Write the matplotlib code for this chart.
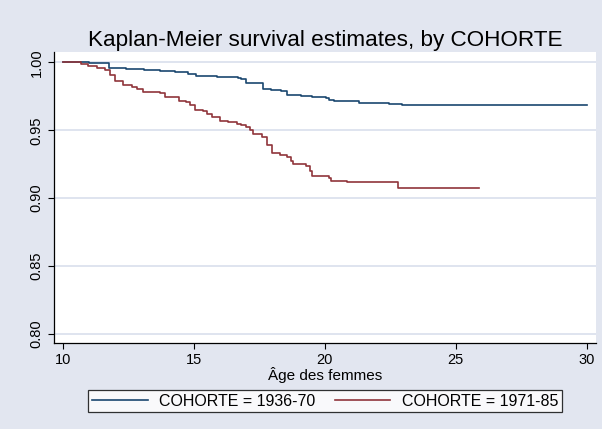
import matplotlib
matplotlib.use('Agg')
import matplotlib.pyplot as plt

plt.rcParams['font.family'] = ['Liberation Sans', 'DejaVu Sans']

# Kaplan-Meier step values
t_old = [10, 11.0, 11.75, 12.4, 13.1, 13.7, 14.3, 14.8, 15.1, 15.7, 15.9, 16.7,
         16.8, 17.0, 17.65, 17.95, 18.35, 18.55, 19.1, 19.5, 19.8, 20.05, 20.15,
         20.35, 21.3, 22.45, 22.95, 30.0]
s_old = [1.000, 0.9993, 0.9958, 0.9952, 0.9942, 0.9934, 0.9926, 0.9914, 0.9903,
         0.9896, 0.9890, 0.9885, 0.9877, 0.9846, 0.9804, 0.9793, 0.9787, 0.9763,
         0.9755, 0.9748, 0.9743, 0.9735, 0.9724, 0.9716, 0.9701, 0.9694, 0.9689,
         0.9689]

t_new = [10, 10.7, 10.95, 11.3, 11.6, 11.8, 12.0, 12.3, 12.65, 12.85, 13.05,
         13.7, 13.9, 14.45, 14.7, 14.85, 15.05, 15.35, 15.5, 15.7, 16.0, 16.3,
         16.65, 16.8, 17.0, 17.15, 17.25, 17.6, 17.8, 18.0, 18.3, 18.55, 18.7,
         18.8, 19.3, 19.45, 19.5, 20.15, 20.25, 20.85, 22.8, 25.9]
s_new = [1.000, 0.9985, 0.9970, 0.9956, 0.9940, 0.9907, 0.9865, 0.9836, 0.9820,
         0.9804, 0.9784, 0.9774, 0.9743, 0.9718, 0.9706, 0.9684, 0.9652, 0.9640,
         0.9623, 0.9598, 0.9568, 0.9559, 0.9549, 0.9537, 0.9524, 0.9500, 0.9476,
         0.9451, 0.9395, 0.9333, 0.9321, 0.9304, 0.9274, 0.9255, 0.9240, 0.9203,
         0.9164, 0.9150, 0.9127, 0.9120, 0.9074, 0.9074]

labels = ['COHORTE = 1936-70', 'COHORTE = 1971-85']
xticks = [10, 15, 20, 25, 30]
yticks = [0.80, 0.85, 0.90, 0.95, 1.00]

bg = '#E2E6F0'
blue = '#1A476F'
red = '#90353B'

fig = plt.figure(figsize=(6.02, 4.29), dpi=100, facecolor=bg)
ax = fig.add_axes([54 / 602, 1 - 343 / 429, 542 / 602, 291 / 429])
ax.set_facecolor('white')

ax.step(t_old, s_old, where='post', color=blue, lw=1.2, label=labels[0])
ax.step(t_new, s_new, where='post', color=red, lw=1.2, label=labels[1])

ax.set_xlim(9.668, 30.355)
ax.set_ylim(0.7934, 1.0076)
ax.set_xticks(xticks)
ax.set_yticks(yticks)
ax.set_yticklabels(['%.2f' % v for v in yticks], rotation=90, va='center')
ax.grid(axis='y', color='#DCE2EE', lw=1.3)
ax.set_axisbelow(True)

for side in ['top', 'right']:
    ax.spines[side].set_visible(False)
for side in ['left', 'bottom']:
    ax.spines[side].set_linewidth(0.9)
ax.tick_params(direction='out', length=4.5, width=0.8, labelsize=10.5, pad=3)

ax.set_xlabel('Âge des femmes', fontsize=11, labelpad=0)
fig.text(325 / 602, 1 - 46 / 429, 'Kaplan-Meier survival estimates, by COHORTE',
         ha='center', va='baseline', fontsize=16.2)

leg = fig.legend(loc='center', bbox_to_anchor=(325 / 602, 1 - 401 / 429), ncol=2,
                 fontsize=11.5, frameon=True, fancybox=False, handlelength=3.5,
                 handletextpad=0.7, columnspacing=1.2, borderpad=0.25)
leg.get_frame().set_edgecolor('black')
leg.get_frame().set_linewidth(0.9)

fig.savefig('out.png', dpi=100, facecolor=bg)
